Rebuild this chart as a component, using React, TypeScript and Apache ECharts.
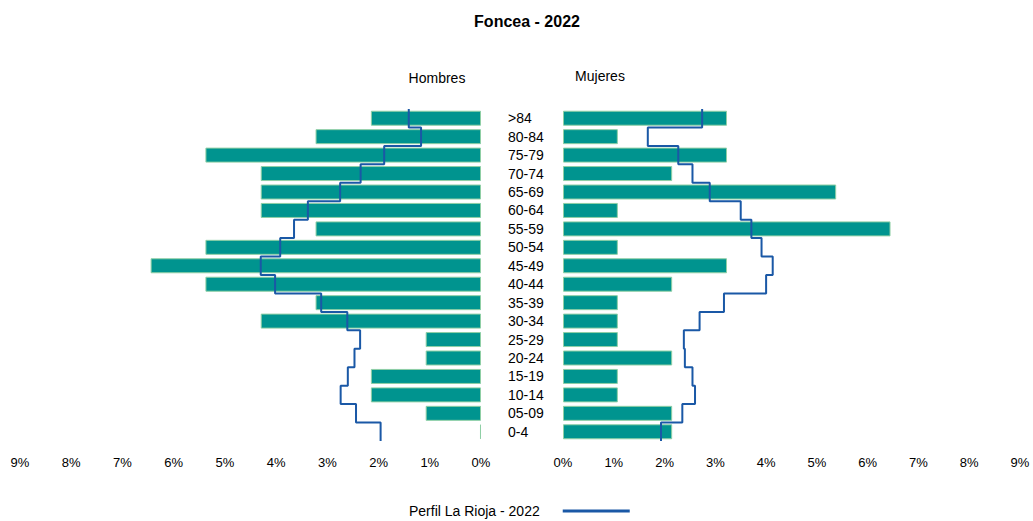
import React, { useEffect, useRef } from "react";
import * as echarts from "echarts";

const categories = ["0-4", "05-09", "10-14", "15-19", "20-24", "25-29", "30-34", "35-39", "40-44", "45-49", "50-54", "55-59", "60-64", "65-69", "70-74", "75-79", "80-84", ">84"];
const hombres = [0.02, 1.08, 2.15, 2.15, 1.08, 1.08, 4.3, 3.23, 5.38, 6.45, 5.38, 3.23, 4.3, 4.3, 4.3, 5.38, 3.23, 2.15];
const mujeres = [2.15, 2.15, 1.08, 1.08, 2.15, 1.08, 1.08, 1.08, 2.15, 3.23, 1.08, 6.45, 1.08, 5.38, 2.15, 3.23, 1.08, 3.23];
const riojaHombres = [1.96, 2.44, 2.74, 2.6, 2.47, 2.36, 2.61, 3.12, 4.02, 4.3, 3.92, 3.65, 3.38, 2.75, 2.35, 1.89, 1.17, 1.41];
const riojaMujeres = [1.93, 2.35, 2.6, 2.55, 2.4, 2.38, 2.69, 3.17, 4.0, 4.13, 3.91, 3.71, 3.5, 2.89, 2.55, 2.27, 1.67, 2.74];
const xTicksMax = 9;
const legendName = "Perfil La Rioja - 2022";

const FONT = "'Liberation Sans', Arial, sans-serif";
const BAR = "#00948F";
const LINE = "#1A58A6";

function stepPoints(vals: number[]) {
  const pts: number[][] = [];
  vals.forEach((v, i) => {
    pts.push([v, i]);
    pts.push([v, i + 1]);
  });
  return pts;
}

export default function App() {
  const ref = useRef<HTMLDivElement>(null);
  useEffect(() => {
    document.body.style.margin = "0";
    if (!ref.current) return;
    const chart = echarts.init(ref.current, undefined, { renderer: "svg" });
    const top = 109;
    const height = 332;
    const xCommon = {
      type: "value",
      min: 0,
      max: xTicksMax,
      interval: 1,
      axisLine: { show: false },
      axisTick: { show: false },
      splitLine: { show: false },
      axisLabel: { formatter: "{value}%", color: "#000", fontSize: 13, fontFamily: FONT, margin: 15 },
    };
    const hiddenY = {
      type: "value",
      min: 0,
      max: categories.length,
      show: false,
    };
    chart.setOption({
      animation: false,
      backgroundColor: "#fff",
      title: {
        text: "Foncea - 2022",
        left: 522,
        top: 8,
        textAlign: "center",
        textStyle: { fontSize: 16, fontWeight: "bold", color: "#000", fontFamily: FONT },
      },
      legend: {
        data: [legendName],
        left: 404,
        top: 499,
        align: "right",
        icon: "rect",
        itemWidth: 67,
        itemHeight: 3,
        textStyle: { fontSize: 14, color: "#000", fontFamily: FONT, padding: [0, 18, 0, 0] },
      },
      graphic: [
        { type: "text", x: 437, y: 78, style: { text: "Hombres", fontSize: 14, fontFamily: FONT, fill: "#000", align: "center", verticalAlign: "middle" } },
        { type: "text", x: 600, y: 76, style: { text: "Mujeres", fontSize: 14, fontFamily: FONT, fill: "#000", align: "center", verticalAlign: "middle" } },
      ],
      grid: [
        { left: 20, top, width: 461, height },
        { left: 563, top, width: 457, height },
      ],
      xAxis: [
        { ...xCommon, gridIndex: 0, inverse: true },
        { ...xCommon, gridIndex: 1 },
      ],
      yAxis: [
        {
          type: "category",
          gridIndex: 0,
          data: categories,
          position: "right",
          axisLine: { show: false },
          axisTick: { show: false },
          axisLabel: { color: "#000", fontSize: 14, fontFamily: FONT, margin: 27, align: "left" },
        },
        { ...hiddenY, gridIndex: 0 },
        {
          type: "category",
          gridIndex: 1,
          data: categories,
          axisLine: { show: false },
          axisTick: { show: false },
          axisLabel: { show: false },
        },
        { ...hiddenY, gridIndex: 1 },
      ],
      series: [
        {
          type: "bar",
          name: "Hombres",
          xAxisIndex: 0,
          yAxisIndex: 0,
          data: hombres,
          barWidth: 15,
          itemStyle: { color: BAR, borderColor: "#8FCFA5", borderWidth: 1 },
        },
        {
          type: "bar",
          name: "Mujeres",
          xAxisIndex: 1,
          yAxisIndex: 2,
          data: mujeres,
          barWidth: 15,
          itemStyle: { color: BAR, borderColor: "#8FCFA5", borderWidth: 1 },
        },
        {
          type: "line",
          name: legendName,
          xAxisIndex: 0,
          yAxisIndex: 1,
          data: stepPoints(riojaHombres),
          symbol: "none",
          lineStyle: { color: LINE, width: 2 },
          itemStyle: { color: LINE },
        },
        {
          type: "line",
          name: legendName,
          xAxisIndex: 1,
          yAxisIndex: 3,
          data: stepPoints(riojaMujeres),
          symbol: "none",
          lineStyle: { color: LINE, width: 2 },
          itemStyle: { color: LINE },
        },
      ],
    });
    return () => chart.dispose();
  }, []);
  return <div ref={ref} style={{ width: 1033, height: 521 }} />;
}
